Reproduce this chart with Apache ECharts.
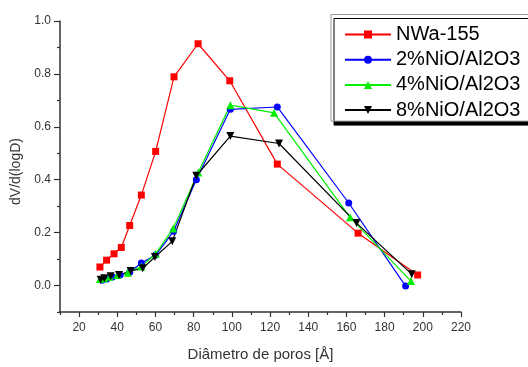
<!DOCTYPE html>
<html><head><meta charset="utf-8">
<script src="https://cdn.jsdelivr.net/npm/echarts@6/dist/echarts.min.js"></script>
<style>html,body{margin:0;padding:0;background:#fff}#c{width:528px;height:367px}</style>
</head><body><div id="c"></div>
<script>
const seriesNames = ['NWa-155', '2%NiO/Al2O3', '4%NiO/Al2O3', '8%NiO/Al2O3'];
const nwa155 = [[30.9,0.070],[34.4,0.096],[38.3,0.120],[42.1,0.144],[46.5,0.227],[52.6,0.342],[60.1,0.507],[69.7,0.789],[82.3,0.914],[98.9,0.774],[123.8,0.459],[166.1,0.198],[197.3,0.040]];
const nio2 = [[32.0,0.020],[34.5,0.025],[37.5,0.032],[41.5,0.040],[46.5,0.050],[52.6,0.085],[60.1,0.115],[69.5,0.205],[81.4,0.400],[99.2,0.666],[123.8,0.675],[161.2,0.312],[191.0,-0.002]];
const nio4 = [[30.9,0.025],[33.0,0.028],[36.0,0.033],[40.0,0.040],[45.5,0.048],[52.6,0.072],[60.1,0.120],[69.3,0.216],[82.4,0.427],[99.2,0.682],[122.1,0.653],[161.9,0.258],[193.8,0.017]];
const nio8 = [[31.3,0.022],[33.2,0.028],[36.5,0.035],[40.9,0.040],[47.0,0.055],[53.3,0.065],[59.7,0.108],[68.8,0.167],[81.4,0.415],[99.2,0.565],[124.7,0.537],[165.3,0.236],[194.2,0.043]];
const xMajorTicks = [20,40,60,80,100,120,140,160,180,200,220];
const xMinorTicks = [10,30,50,70,90,110,130,150,170,190,210];
const yMajorTicks = [0,0.2,0.4,0.6,0.8,1.0];
const yMinorTicks = [-0.1,0.1,0.3,0.5,0.7,0.9];

const FONT = 'Liberation Sans';
const axisCol = '#333';
const chart = echarts.init(document.getElementById('c'), null, {renderer:'canvas'});
const mkSeries = (name, data, color, symbol, size, rot) => ({
  name, type:'line', data, xAxisIndex:0, yAxisIndex:0,
  symbol, symbolSize:size, symbolRotate:rot||0, showSymbol:true,
  lineStyle:{color, width:1.2}, itemStyle:{color},
  emphasis:{disabled:true}, animation:false
});
chart.setOption({
  animation:false,
  grid:{left:60, right:67, top:21, bottom:46, containLabel:false},
  legend:{
    orient:'vertical', left:331, top:14.5,
    data:seriesNames,
    backgroundColor:'#fff', borderColor:'#999', borderWidth:1,
    shadowColor:'#000', shadowBlur:0, shadowOffsetX:3, shadowOffsetY:4,
    padding:[9,8,0,13], itemWidth:46, itemHeight:10, itemGap:3.2,
    textStyle:{fontFamily:FONT, fontSize:20, color:'#000', lineHeight:22}
  },
  xAxis:[{
    type:'value', min:10, max:220, position:'bottom',
    name:'Diâmetro de poros [Å]', nameLocation:'middle', nameGap:35,
    nameTextStyle:{fontFamily:FONT, fontSize:15, color:axisCol},
    axisLine:{show:true, onZero:false, lineStyle:{color:axisCol, width:1.5}},
    axisTick:{show:true, customValues:xMajorTicks, length:5, lineStyle:{color:axisCol, width:1.2}},
    axisLabel:{customValues:xMajorTicks, fontFamily:FONT, fontSize:12, color:axisCol, margin:10},
    splitLine:{show:false}
  },{
    type:'value', min:10, max:220, position:'bottom',
    axisLine:{show:false, onZero:false},
    axisTick:{show:true, customValues:xMinorTicks, length:3, lineStyle:{color:axisCol, width:1.2}},
    axisLabel:{show:false}, splitLine:{show:false}
  }],
  yAxis:[{
    type:'value', min:-0.1, max:1.0, position:'left',
    name:'dV/d(logD)', nameLocation:'middle', nameGap:30, nameRotate:90,
    nameTextStyle:{fontFamily:FONT, fontSize:14, color:axisCol, padding:[0,10,0,0]},
    axisLine:{show:true, onZero:false, lineStyle:{color:axisCol, width:1.5}},
    axisTick:{show:true, customValues:yMajorTicks, length:6, lineStyle:{color:axisCol, width:1.2}},
    axisLabel:{customValues:yMajorTicks, fontFamily:FONT, fontSize:12, color:axisCol, margin:9,
      formatter:v=>v.toFixed(1)},
    splitLine:{show:false}
  },{
    type:'value', min:-0.1, max:1.0, position:'left',
    axisLine:{show:false, onZero:false},
    axisTick:{show:true, customValues:yMinorTicks, length:3, lineStyle:{color:axisCol, width:1.2}},
    axisLabel:{show:false}, splitLine:{show:false}
  }],
  series:[
    mkSeries(seriesNames[0], nwa155, '#ff0000', 'rect', 7),
    mkSeries(seriesNames[1], nio2, '#0000ff', 'circle', 7),
    mkSeries(seriesNames[2], nio4, '#00ee00', 'triangle', 8),
    mkSeries(seriesNames[3], nio8, '#000000', 'triangle', 8, 180)
  ]
});
</script></body></html>
